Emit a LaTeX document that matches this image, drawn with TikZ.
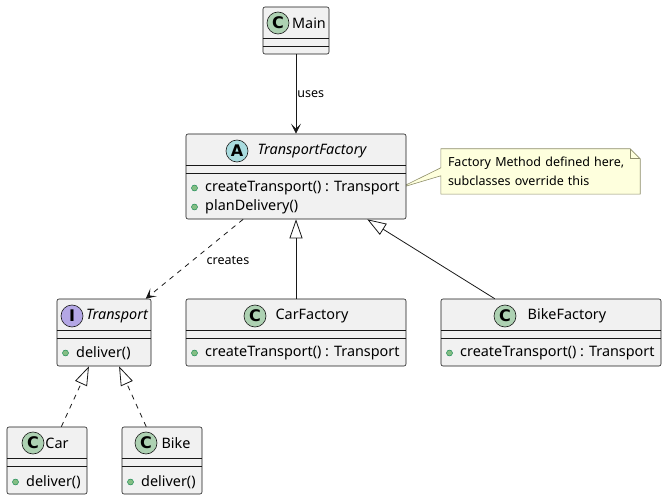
\documentclass[tikz,border=0pt]{standalone}
\usepackage{fontspec}
\setmainfont{Noto Sans}
\newfontfamily\badgefont{DejaVu Sans}
\usetikzlibrary{arrows.meta, calc, positioning, backgrounds}

\definecolor{clsfill}{HTML}{F1F1F1}
\definecolor{clsline}{HTML}{181818}
\definecolor{cbadge}{HTML}{ADD1B2}
\definecolor{abadge}{HTML}{A9DCDF}
\definecolor{ibadge}{HTML}{B4A7E5}
\definecolor{dotfill}{HTML}{84BE84}
\definecolor{dotline}{HTML}{038048}
\definecolor{notefill}{HTML}{FEFFDD}
\definecolor{noteline}{HTML}{8E8E6A}

\begin{document}
\begin{tikzpicture}[
  x=1pt, y=-1pt,
  font=\fontsize{14.4}{16}\selectfont,
  cls/.style={rectangle, draw=clsline, fill=clsfill, line width=0.6pt, rounded corners=2pt, inner sep=0pt},
  sep/.style={draw=clsline, line width=0.6pt},
  badge/.style={circle, draw=clsline, line width=0.6pt, minimum size=22pt, inner sep=0pt, font=\badgefont\fontsize{16}{16}\selectfont\bfseries},
  title/.style={inner sep=0pt},
  member/.style={anchor=west, inner sep=0pt},
  dot/.style={circle, draw=dotline, fill=dotfill, line width=0.4pt, minimum size=6pt, inner sep=0pt},
  lbl/.style={inner sep=0pt, font=\fontsize{12.5}{19}\selectfont},
  link/.style={draw=clsline, line width=0.8pt},
  uses/.style={link, -{Stealth[length=10pt, width=10pt, inset=5pt]}},
  creates/.style={link, dash pattern=on 5pt off 5pt, -{Stealth[length=10pt, width=10pt, inset=5pt]}},
  extends/.style={link, -{Triangle[open, length=19pt, width=13pt, fill=white]}},
  implements/.style={link, dash pattern=on 5pt off 5pt, -{Triangle[open, length=19pt, width=13pt, fill=white]}},
  notebox/.style={draw=noteline, fill=notefill, line width=0.6pt},
  ]

  \useasboundingbox (0,0) rectangle (667,500);

  % class boxes
  \node[cls, minimum width=66pt, minimum height=47pt] (main) at (296,30.5) {};
  \node[cls, minimum width=220pt, minimum height=85pt] (tf) at (296,176.5) {};
  \node[cls, minimum width=94pt, minimum height=67pt] (tr) at (104,332.5) {};
  \node[cls, minimum width=220pt, minimum height=67pt] (cf) at (296,332.5) {};
  \node[cls, minimum width=220pt, minimum height=67pt] (bf) at (551,332.5) {};
  \node[cls, minimum width=80pt, minimum height=67pt] (car) at (47,460.5) {};
  \node[cls, minimum width=80pt, minimum height=67pt] (bike) at (162,460.5) {};

  % compartments
  \foreach \c in {main, tf, tr, cf, bf, car, bike} {
    \draw[sep] ($(\c.north west)+(0,32)$) -- ($(\c.north east)+(0,32)$);
    \draw[sep] ($(\c.north west)+(0,40)$) -- ($(\c.north east)+(0,40)$);
  }

  % headers
  \node[badge, fill=cbadge] (mainB) at (278,23) {C};
  \node[title] (mainT) at (309,23) {Main};
  \node[badge, fill=abadge] (tfB) at (237,151) {A};
  \node[title, font=\fontsize{14.4}{16}\selectfont\itshape] (tfT) at (312,151) {TransportFactory};
  \node[badge, fill=ibadge] (trB) at (72,316) {I};
  \node[title, font=\fontsize{14.4}{16}\selectfont\itshape] (trT) at (117,316) {Transport};
  \node[badge, fill=cbadge] (cfB) at (255,316) {C};
  \node[title] (cfT) at (312,316) {CarFactory};
  \node[badge, fill=cbadge] (bfB) at (505,316) {C};
  \node[title] (bfT) at (567,316) {BikeFactory};
  \node[badge, fill=cbadge] (carB) at (33,443) {C};
  \node[title] (carT) at (57,443) {Car};
  \node[badge, fill=cbadge] (bikeB) at (146,443) {C};
  \node[title] (bikeT) at (176,443) {Bike};

  % members
  \node[dot] (tfD1) at (194.5,188) {};
  \node[member] (tfM1) at (205,188) {createTransport() : Transport};
  \node[dot] (tfD2) at (194.5,207) {};
  \node[member] (tfM2) at (205,207) {planDelivery()};
  \node[dot] (trD1) at (65.5,353) {};
  \node[member] (trM1) at (76,353) {deliver()};
  \node[dot] (cfD1) at (194.5,353) {};
  \node[member] (cfM1) at (205,353) {createTransport() : Transport};
  \node[dot] (bfD1) at (449.5,353) {};
  \node[member] (bfM1) at (460,353) {createTransport() : Transport};
  \node[dot] (carD1) at (15.5,482) {};
  \node[member] (carM1) at (26,482) {deliver()};
  \node[dot] (bikeD1) at (130.5,482) {};
  \node[member] (bikeM1) at (141,482) {deliver()};

  % note
  \node[lbl, align=left, minimum width=199pt, minimum height=45pt, text width=185pt] (note) at (540.5,171.5)
    {Factory Method defined here,\\subclasses override this};
  \begin{pgfonlayer}{background}
    \path[notebox] (note.north west) -- ($(note.north east)+(-10,0)$) -- ($(note.north east)+(0,10)$)
      -- (note.south east) -- (note.south west) -- ($(note.north west)+(0,27)$)
      -- (tfM1.east) -- ($(note.north west)+(0,19)$) -- cycle;
    \draw[notebox, fill=none] ($(note.north east)+(-10,0)$) -- ($(note.north east)+(-10,10)$) -- ($(note.north east)+(0,10)$);
  \end{pgfonlayer}

  % relations
  \draw[uses] (main) -- node[lbl, right=1pt] (usesL) {uses} (tf);
  \draw[creates] (tf.219) -- (tr.39);
  \node[lbl] (createsL) at (228,260) {creates};
  \draw[extends] (cf) -- (tf);
  \draw[extends] (bf.149) -- (tf.329);
  \draw[implements] (car.67) -- (tr.246);
  \draw[implements] (bike.115) -- (tr.294);
\end{tikzpicture}
\end{document}
